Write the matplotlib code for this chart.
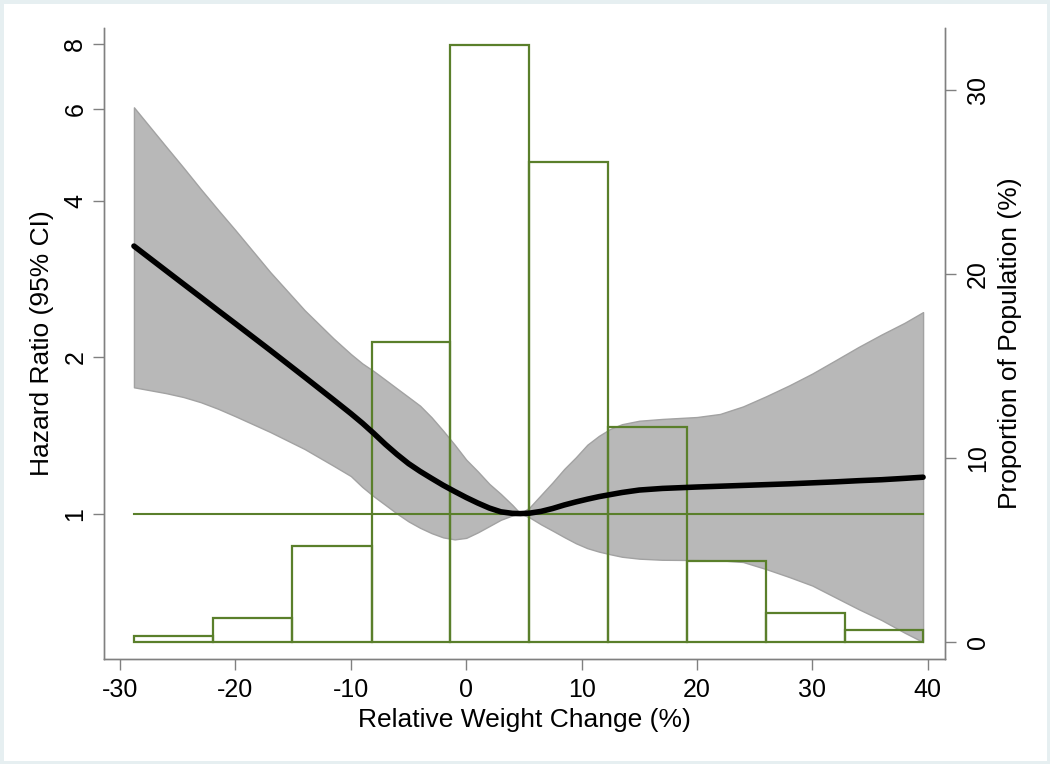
import matplotlib
matplotlib.use("Agg")
import matplotlib.pyplot as plt
import numpy as np

plt.rcParams["font.family"] = ["Liberation Sans", "DejaVu Sans"]

# spline estimate (hazard ratio) and 95% CI
weight_change = [-28.8, -26, -24.5, -23, -21.5, -20, -17, -14, -11.5, -10, -9, -8, -7, -6, -5,
                 -4, -3, -2, -1, 0, 1, 2, 3, 4, 4.7, 5.5, 6.5, 7.5, 8.5, 9.5, 10.5, 11.5,
                 12.5, 13.5, 15, 17, 20, 22, 24, 26, 28, 30, 32, 34, 36, 38, 39.6]
hazard_ratio = [3.272, 2.932, 2.765, 2.608, 2.459, 2.320, 2.063, 1.831, 1.656, 1.558, 1.493,
                1.426, 1.359, 1.300, 1.248, 1.206, 1.169, 1.134, 1.103, 1.074, 1.048, 1.025,
                1.008, 1.001, 1.0, 1.002, 1.010, 1.023, 1.039, 1.053, 1.066, 1.078,
                1.088, 1.098, 1.110, 1.118, 1.125, 1.129, 1.133, 1.137, 1.141, 1.146,
                1.151, 1.157, 1.162, 1.169, 1.175]
ci_upper = [6.05, 5.08, 4.63, 4.21, 3.84, 3.51, 2.918, 2.462, 2.173, 2.028, 1.945, 1.879,
            1.809, 1.741, 1.676, 1.613, 1.532, 1.444, 1.357, 1.270, 1.206, 1.141, 1.091,
            1.039, 1.0, 1.028, 1.087, 1.149, 1.219, 1.283, 1.357, 1.411,
            1.456, 1.486, 1.509, 1.521, 1.534, 1.555, 1.608, 1.682, 1.765, 1.860,
            1.972, 2.092, 2.211, 2.329, 2.442]
ci_lower = [1.750, 1.705, 1.676, 1.638, 1.591, 1.539, 1.436, 1.331, 1.236, 1.181, 1.125,
            1.079, 1.039, 1.0, 0.966, 0.939, 0.917, 0.900, 0.892, 0.898, 0.920, 0.946,
            0.973, 0.992, 1.0, 0.983, 0.953, 0.927, 0.901, 0.877, 0.858, 0.845,
            0.835, 0.826, 0.819, 0.815, 0.814, 0.813, 0.807, 0.782, 0.755, 0.727,
            0.690, 0.655, 0.624, 0.590, 0.566]

# histogram of the population
bin_edges = [-28.8, -21.95, -15.1, -8.2, -1.4, 5.45, 12.25, 19.1, 25.95, 32.8, 39.6]
proportion = [0.31, 1.31, 5.22, 16.3, 32.5, 26.1, 11.7, 4.42, 1.61, 0.64]

hr_ticks = [1, 2, 4, 6, 8]
pop_ticks = [0, 10, 20, 30]
x_ticks = [-30, -20, -10, 0, 10, 20, 30, 40]

green = "#5a7f2b"
axis_gray = "#808080"

fig = plt.figure(figsize=(10.5, 7.64), dpi=100)
fig.patch.set_edgecolor("#e6eff1")
fig.patch.set_linewidth(5)

ax_pop = fig.add_axes([0.099, 0.1374, 0.801, 0.826])
ax_hr = ax_pop.twinx()
ax_hr.patch.set_visible(False)

# hazard ratio axis on the left (log scale), population share on the right
ax_hr.yaxis.set_ticks_position("left")
ax_hr.yaxis.set_label_position("left")
ax_pop.yaxis.set_ticks_position("right")
ax_pop.yaxis.set_label_position("right")

ax_hr.fill_between(weight_change, ci_lower, ci_upper, facecolor="#b8b8b8",
                   edgecolor="#a2a2a2", linewidth=1, zorder=1)

left = np.array(bin_edges[:-1])
widths = np.diff(bin_edges)
ax_hr.bar(left, proportion, width=widths, align="edge", fill=False,
          edgecolor=green, linewidth=1.6, transform=ax_pop.transData, zorder=2)
ax_hr.plot([bin_edges[0], bin_edges[-1]], [1, 1], color=green, linewidth=1.5, zorder=2)
ax_hr.plot(weight_change, hazard_ratio, color="black", linewidth=4,
           solid_capstyle="round", zorder=3)

ax_hr.set_yscale("log")
ax_hr.set_ylim(0.525, 8.6)
ax_pop.set_ylim(-0.92, 33.4)
ax_pop.set_xlim(-31.4, 41.5)

ax_hr.set_yticks(hr_ticks)
ax_hr.set_yticklabels([str(t) for t in hr_ticks])
ax_hr.yaxis.set_minor_locator(matplotlib.ticker.NullLocator())
ax_pop.set_yticks(pop_ticks)
ax_pop.set_xticks(x_ticks)
ax_pop.set_xticklabels([str(t) for t in x_ticks])

for a in (ax_pop, ax_hr):
    a.spines["top"].set_visible(False)
    for s in ("left", "right", "bottom"):
        a.spines[s].set_color(axis_gray)
        a.spines[s].set_linewidth(1)
    a.tick_params(axis="both", which="major", length=8, width=1, color=axis_gray,
                  labelsize=18, labelcolor="black")

ax_hr.tick_params(axis="y", labelrotation=90, pad=4)
ax_pop.tick_params(axis="y", labelrotation=90, pad=7)
ax_pop.tick_params(axis="x", pad=6)
for lab in ax_hr.get_yticklabels() + ax_pop.get_yticklabels():
    lab.set_va("center")

ax_pop.set_xlabel("Relative Weight Change (%)", fontsize=19, labelpad=4)
ax_hr.set_ylabel("Hazard Ratio (95% CI)", fontsize=19, labelpad=7)
ax_pop.set_ylabel("Proportion of Population (%)", fontsize=19, labelpad=6)

fig.savefig("out.png", dpi=100)
